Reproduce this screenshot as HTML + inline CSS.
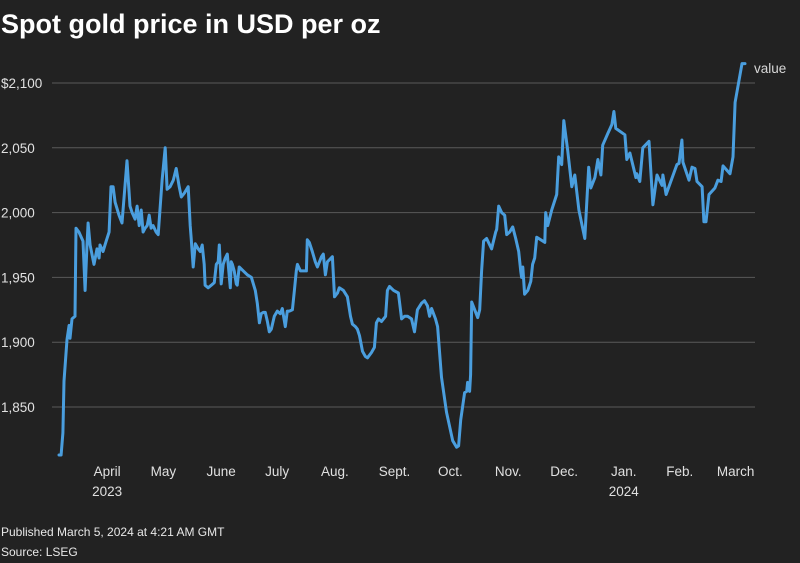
<!DOCTYPE html>
<html><head><meta charset="utf-8"><style>
html,body{margin:0;padding:0;background:#222222;}
body{width:800px;height:563px;overflow:hidden;font-family:"Liberation Sans",sans-serif;color:#fff;position:relative;}
#title{position:absolute;left:1px;top:9px;font-size:27px;font-weight:bold;letter-spacing:0px;}
.foot{position:absolute;left:1px;font-size:12px;color:#e8e8e8;}
svg{position:absolute;left:0;top:0;}
</style></head><body>
<div id="title">Spot gold price in USD per oz</div>
<svg id="chart" width="800" height="563"></svg>
<div class="foot" style="top:525px">Published March 5, 2024 at 4:21 AM GMT</div>
<div class="foot" style="top:545px">Source: LSEG</div>
<script>
const days=[0,1.1,2.1,2.7,4.3,5.4,5.9,7,8.6,9.1,10.7,12.9,14,15,15.6,16.7,18.8,20.4,21.5,22,23.6,25.3,26.9,27.9,29,30.1,32.2,33.8,36.5,38.1,39.2,40.8,41.9,43,44.1,45.1,46.2,47.3,48.4,49.4,50.5,52.1,53.2,55.3,57,58,59.6,61.3,62.9,64.5,65.6,67.2,69.3,70.4,70.9,72,73.1,74.7,75.8,76.8,77.9,78.4,80,81.7,83.3,84.4,85.4,86,87,88.1,89.2,90.3,91.9,92.4,93,94,95.1,95.6,96.7,98.9,101,103.2,105.3,106.4,107.5,108.5,109.6,110.7,111.8,112.8,113.9,115.5,117.1,118.7,119.8,121.4,122.5,123.6,125.2,126.3,127.3,127.9,129.5,131.1,132.7,133.2,134.3,135.9,137.5,138.6,140.8,141.8,142.9,144,146.7,147.8,149.4,150.4,152.6,154.7,156.4,157.4,159,160.1,161.2,162.8,164.4,165.5,167.6,169.2,170.3,171.4,173,174.1,175.2,176.2,177.3,179.5,182.1,183.8,185.4,187,189.1,190.7,192.3,194.5,196.1,197.7,198.8,199.9,202,203.1,205.2,207.9,211.2,213.3,214.4,215.5,217.6,218.7,219.2,220.3,220.8,221.4,223,224.6,225.7,226.7,227.8,229.4,232.1,234.3,234.8,235.9,237.5,239.1,240.2,241.8,243.4,245,246.6,247.7,248.2,248.8,249.8,251.5,253.1,254.1,255.2,256.3,258.4,260.6,261.1,262.2,264.3,267,268.1,269.7,270.8,272.9,275.1,276.7,278.9,282.1,284.2,285.3,287.5,289.1,290.7,291.7,294.4,296.6,297.7,298.7,303.6,304.6,306.3,309.5,310,311.6,313.2,316.5,318.6,320.8,323.5,324,325.7,327.2,331.5,332.6,334.2,334.7,338,339.6,341.2,342.3,345,346,347.1,348.7,351.9,353.5,355.2,356.2,360,361.6,362.7,366.4,368];
const prices=[1813,1813,1830,1870,1902,1913,1903,1918,1920,1988,1985,1978,1940,1975,1992,1975,1960,1972,1965,1975,1970,1978,1985,2020,2020,2008,1998,1992,2040,2005,2000,1995,2005,1990,2002,1985,1988,1990,1998,1988,1990,1985,1983,2025,2050,2018,2020,2025,2034,2020,2012,2015,2020,1990,1980,1958,1976,1972,1970,1975,1960,1944,1942,1944,1946,1960,1962,1975,1945,1960,1965,1968,1942,1962,1960,1955,1945,1944,1958,1955,1952,1950,1940,1930,1915,1922,1923,1923,1916,1908,1910,1920,1924,1922,1926,1912,1924,1924,1925,1940,1955,1960,1955,1955,1955,1979,1977,1970,1962,1958,1966,1968,1952,1962,1966,1935,1938,1942,1940,1935,1920,1914,1912,1910,1905,1893,1889,1888,1892,1896,1915,1918,1916,1918,1920,1940,1943,1940,1938,1918,1920,1920,1918,1908,1925,1930,1932,1928,1920,1926,1918,1912,1873,1846,1824,1819,1820,1840,1861,1862,1869,1862,1875,1931,1925,1919,1925,1955,1978,1980,1972,1985,1987,2005,2000,1998,1983,1985,1989,1980,1970,1955,1950,1958,1937,1940,1947,1960,1965,1981,1979,1977,2000,1990,2002,2014,2043,2037,2071,2048,2020,2029,2002,1980,2035,2019,2027,2041,2029,2052,2061,2068,2078,2065,2060,2041,2046,2027,2030,2024,2050,2055,2006,2029,2021,2029,2014,2020,2037,2038,2056,2039,2025,2035,2034,2024,2020,1993,1993,2014,2019,2025,2024,2036,2030,2043,2085,2115,2115];
const yTicks=[1850,1900,1950,2000,2050,2100];
const yTickLabels=["1,850","1,900","1,950","2,000","2,050","$2,100"];
const monthLabels=["April","May","June","July","Aug.","Sept.","Oct.","Nov.","Dec.","Jan.","Feb.","March"];
const monthDays=[25.8,56,87,117,148,180,210,241,271,303,333,363];
const yearLabels=["2023","2024"];
const yearDays=[25.8,303];

const NS="http://www.w3.org/2000/svg";
const svg=document.getElementById('chart');
function x(d){return 59+d*1.864;}
function y(v){return 83+(2100-v)*1.296;}
function mk(tag,attrs){const e=document.createElementNS(NS,tag);for(const k in attrs)e.setAttribute(k,attrs[k]);svg.appendChild(e);return e;}

yTicks.forEach((t,i)=>{
  const g=mk('line',{x1:52,x2:755,y1:y(t),y2:y(t),stroke:'#5a5a5a','stroke-width':1});
  
  
  const tx=mk('text',{x:1,y:y(t)+5,'font-size':13.5,fill:'#e0e0e0','font-family':'Liberation Sans, sans-serif'});
  tx.textContent=yTickLabels[i];
  
  
});
monthLabels.forEach((m,i)=>{
  const tx=mk('text',{x:x(monthDays[i]),y:476,'font-size':13.5,fill:'#e0e0e0','text-anchor':'middle','font-family':'Liberation Sans, sans-serif'});
  tx.textContent=m;
  
  
});
yearLabels.forEach((m,i)=>{
  const tx=mk('text',{x:x(yearDays[i]),y:496,'font-size':13.5,fill:'#e0e0e0','text-anchor':'middle','font-family':'Liberation Sans, sans-serif'});
  tx.textContent=m;
  
  
});
let dstr=days.map((d,i)=>(i?'L':'M')+x(d).toFixed(1)+','+y(prices[i]).toFixed(1)).join(' ');
const p=mk('path',{d:dstr,fill:'none',stroke:'#4a9ede','stroke-width':3,'stroke-linejoin':'round','stroke-linecap':'round'});


const lg=mk('text',{x:754,y:73,'font-size':13.5,fill:'#d8d8d8','font-family':'Liberation Sans, sans-serif'});
lg.textContent='value';


</script>
</body></html>
